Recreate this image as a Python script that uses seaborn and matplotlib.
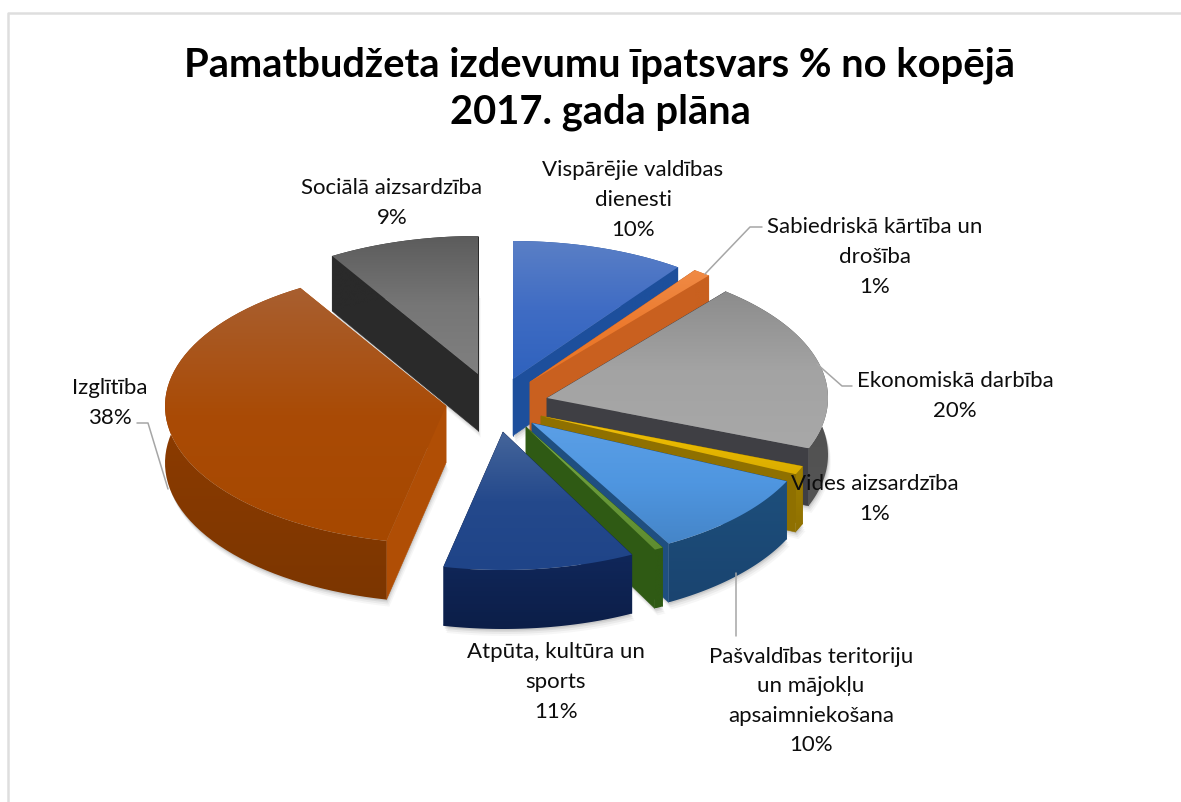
import numpy as np
import matplotlib
matplotlib.use("Agg")
import matplotlib.pyplot as plt
from matplotlib.colors import LinearSegmentedColormap
from matplotlib.patches import Polygon
import seaborn as sns

# ---- data -------------------------------------------------------------
categories = ["Vispārējie valdības dienesti", "Sabiedriskā kārtība un drošība",
              "Ekonomiskā darbība", "Vides aizsardzība",
              "Pašvaldības teritoriju un mājokļu apsaimniekošana", "Veselība",
              "Atpūta, kultūra un sports", "Izglītība", "Sociālā aizsardzība"]
values = [10, 1, 20, 1, 10, 0.5, 11, 38, 8.7]
title = "Pamatbudžeta izdevumu īpatsvars % no kopējā\n2017. gada plāna"

# ---- style ------------------------------------------------------------
sns.set_theme(style="white")
plt.rcParams['font.family'] = ['Lato', 'DejaVu Sans']

apex = [(513, 380), (530, 383), (547, 399), (541, 417), (532, 424),
        (526, 428), (503, 433), (446, 407), (478, 375)]
top_stops = [["#5a7fc6", "#3f6cc4", "#2f62bd"],
             ["#f08a45", "#ec7a2e", "#e87525"],
             ["#8c8c8c", "#a3a3a3", "#a8a8a8"],
             ["#f0c010", "#e8b800", "#d9ac00"],
             ["#5b9fe6", "#4f96e0", "#4585c8"],
             ["#7aa84a", "#6a9a3a", "#5e8c30"],
             ["#45659a", "#24498c", "#1f4488"],
             ["#a85f30", "#aa4b06", "#a64800"],
             ["#5c5c5c", "#767676", "#808080"]]
wall_radial = ["#1d4f9c", "#c9601f", "#3f3f44", "#8f7000", "#1f4f80",
               "#2f5a14", "#0f2555", "#b04e05", "#2a2a2a"]
wall_arc = [["#1d4f9c", "#1d4f9c"], ["#c9601f", "#c9601f"], ["#4a4a4a", "#555555"],
            ["#a08000", "#8f7000"], ["#1d4f7c", "#1a4470"], ["#2f5a14", "#2f5a14"],
            ["#10275a", "#0c1e48"], ["#983f00", "#7c3600"], ["#2a2a2a", "#2a2a2a"]]
draw_order = [8, 0, 1, 2, 7, 3, 4, 5, 6]
RX, RY = 281, 138

fig = plt.figure(figsize=(11.81, 8.03), dpi=100, facecolor="white")
ax = fig.add_axes([0, 0, 1, 1])
wedges, _ = ax.pie(values, startangle=90, counterclock=False, radius=1)
for w in wedges:
    w.set_visible(False)


def depth(y):
    return 55 + 4 * np.clip((y - 262) / 300, 0, 1)


def gradient_fill(points, colors, name, z):
    pts = np.asarray(points)
    poly = Polygon(pts, closed=True, fc="none", ec="none", transform=ax.transData, zorder=z)
    ax.add_patch(poly)
    cmap = LinearSegmentedColormap.from_list(name, sns.color_palette(colors))
    im = ax.imshow(np.linspace(0, 1, 256)[:, None], cmap=cmap, aspect="auto",
                   extent=[pts[:, 0].min(), pts[:, 0].max(), pts[:, 1].max(), pts[:, 1].min()],
                   origin="upper", zorder=z, interpolation="bilinear")
    im.set_clip_path(poly)


zo = 2
for i in draw_order:
    w = wedges[i]
    ax0, ay0 = apex[i]
    t = np.radians(np.linspace(w.theta1, w.theta2, 60))
    ax_ = ax0 + RX * np.cos(t)
    ay_ = ay0 - RY * np.sin(t)
    xs = np.r_[ax0, ax_]
    ys = np.r_[ay0, ay_]
    ds = depth(ys)
    # soft shadow
    for off, a in [(7, .05), (5, .07), (3, .1), (1.5, .12)]:
        ax.add_patch(Polygon(np.c_[xs + off * .4, ys + ds + off], closed=True,
                             fc="#555555", ec="none", alpha=a, zorder=zo))
    zo += 1
    # radial walls
    for k in (1, len(xs) - 1):
        q = [(xs[0], ys[0]), (xs[k], ys[k]), (xs[k], ys[k] + ds[k]), (xs[0], ys[0] + ds[0])]
        ax.add_patch(Polygon(q, closed=True, fc=wall_radial[i], ec=wall_radial[i],
                             lw=.4, zorder=zo))
        zo += 1
    # outer wall
    arc_pts = np.r_[np.c_[xs[1:], ys[1:]], np.c_[xs[1:], ys[1:] + ds[1:]][::-1]]
    gradient_fill(arc_pts, wall_arc[i], f"w{i}", zo)
    zo += 1
    # top face
    gradient_fill(np.c_[xs, ys], top_stops[i], f"c{i}", zo)
    zo += 1

ax.set_xlim(0, 1181)
ax.set_ylim(803, 0)
ax.set_axis_off()

# frame
ax.plot([8, 8, 1181], [803, 14, 14], color="#dedede", lw=1.8, zorder=1, clip_on=False)

# leader lines
lc = "#a6a6a6"
for lx, ly in [([705, 750, 762], [275, 228, 228]),
               ([817, 842, 852], [365, 387, 387]),
               ([168, 148, 137], [490, 424, 424]),
               ([736, 736], [574, 637])]:
    ax.plot(lx, ly, color=lc, lw=1.1, zorder=zo)
zo += 1

label_text = [("Vispārējie valdības\ndienesti\n10%", 633, 200),
              ("Sabiedriskā kārtība un\ndrošība\n1%", 875, 257),
              ("Ekonomiskā darbība\n20%", 955, 396),
              ("Vides aizsardzība\n1%", 875, 499),
              ("Pašvaldības teritoriju\nun mājokļu\napsaimniekošana\n10%", 811, 701),
              ("Atpūta, kultūra un\nsports\n11%", 556, 682),
              ("Izglītība\n38%", 110, 403),
              ("Sociālā aizsardzība\n9%", 392, 203)]
for s, x, y in label_text:
    ax.text(x, y, s, ha="center", va="center", fontsize=16, color="#0d0d0d",
            linespacing=1.6, zorder=zo)

ax.text(600, 88.5, title, ha="center", va="center", fontsize=28.7, fontweight="bold",
        color="black", linespacing=1.33, zorder=zo)

fig.savefig("out.png", dpi=100, facecolor="white")
